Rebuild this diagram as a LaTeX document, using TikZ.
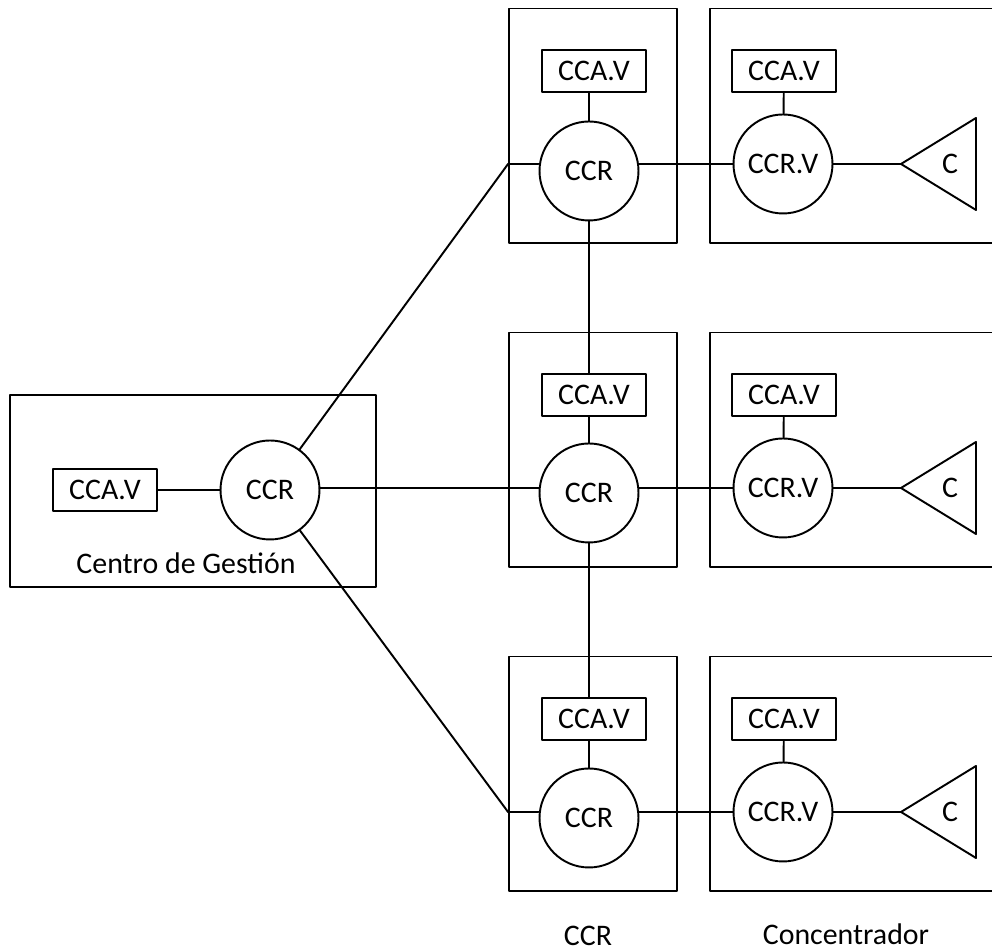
\documentclass[tikz,border=0pt]{standalone}
\usepackage{fontspec}
\setmainfont{Carlito}
\begin{document}
\begin{tikzpicture}[line cap=round,line join=round,x=0.02cm,y=0.02cm,line width=1.1pt,
	every node/.style={font=\fontsize{17}{20}\selectfont},
	cadre/.style={draw,line width=1.1pt,inner sep=0pt},
	boite/.style={draw,line width=1.1pt,minimum width=2.08cm,minimum height=0.84cm,inner sep=0pt},
	rond/.style={draw,circle,line width=1.1pt,minimum size=1.98cm,inner sep=0pt}]
		% Limites du dessin
		\clip (0,0) rectangle (992,952);
		
		% Centre de gestion
		\node[cadre,minimum width=7.32cm,minimum height=3.84cm] (cg) at (193,461) {};
		\node[boite] (cca0) at (105,462) {CCA.V};
		\node[rond] (ccr0) at (270,462) {CCR};
		\node (lcg) at (186,389) {Centro de Gestión};
		\draw (cca0) -- (ccr0);
		
		% Cadres CCR et concentrateurs
		\node[cadre,minimum width=3.36cm,minimum height=4.7cm] (box1) at (593,826) {};
		\node[cadre,minimum width=3.36cm,minimum height=4.7cm] (box2) at (593,502) {};
		\node[cadre,minimum width=3.36cm,minimum height=4.7cm] (box3) at (593,178) {};
		\node[cadre,minimum width=5.8cm,minimum height=4.7cm] (conc1) at (855,826) {};
		\node[cadre,minimum width=5.8cm,minimum height=4.7cm] (conc2) at (855,502) {};
		\node[cadre,minimum width=5.8cm,minimum height=4.7cm] (conc3) at (855,178) {};
		
		% Ligne 1
		\node[boite] (cca1) at (594,881) {CCA.V};
		\node[rond] (ccr1) at (589,781) {CCR};
		\node[boite] (ccav1) at (784,881) {CCA.V};
		\node[rond] (ccrv1) at (783,788) {CCR.V};
		\coordinate (tip1) at (901,788);
		\draw (tip1) -- ++(75,46) -- ++(0,-92) -- cycle;
		\node (c1) at (950,788) {C};
		
		% Ligne 2
		\node[boite] (cca2) at (594,557) {CCA.V};
		\node[rond] (ccr2) at (589,459) {CCR};
		\node[boite] (ccav2) at (784,557) {CCA.V};
		\node[rond] (ccrv2) at (783,464) {CCR.V};
		\coordinate (tip2) at (901,464);
		\draw (tip2) -- ++(75,46) -- ++(0,-92) -- cycle;
		\node (c2) at (950,464) {C};
		
		% Ligne 3
		\node[boite] (cca3) at (594,233) {CCA.V};
		\node[rond] (ccr3) at (589,134) {CCR};
		\node[boite] (ccav3) at (784,233) {CCA.V};
		\node[rond] (ccrv3) at (783,140) {CCR.V};
		\coordinate (tip3) at (901,140);
		\draw (tip3) -- ++(75,46) -- ++(0,-92) -- cycle;
		\node (c3) at (950,140) {C};
		
		% Liaisons depuis le centre de gestion
		\coordinate (j1) at (box1.west |- ccrv1);
		\coordinate (j3) at (box3.west |- ccrv3);
		\draw (ccr0) -- (j1) -- (ccr1.west |- j1);
		\draw (ccr0.east |- ccrv2) -- (ccr2.west |- ccrv2);
		\draw (ccr0) -- (j3) -- (ccr3.west |- j3);
		
		% Liaisons internes
		\draw (cca1.south -| ccr1) -- (ccr1);
		\draw (cca2.south -| ccr2) -- (ccr2);
		\draw (cca3.south -| ccr3) -- (ccr3);
		\draw (ccav1) -- (ccrv1);
		\draw (ccav2) -- (ccrv2);
		\draw (ccav3) -- (ccrv3);
		\draw (ccr1) -- (ccr1 |- cca2.north);
		\draw (ccr2) -- (ccr2 |- cca3.north);
		\draw (ccr1.east |- ccrv1) -- (ccrv1) -- (tip1);
		\draw (ccr2.east |- ccrv2) -- (ccrv2) -- (tip2);
		\draw (ccr3.east |- ccrv3) -- (ccrv3) -- (tip3);
		
		% Legendes
		\node[inner sep=0pt] (lccr) at (588,16) {CCR};
		\node[inner sep=0pt] (lconc) at (846,18) {Concentrador};
\end{tikzpicture}
\end{document}
